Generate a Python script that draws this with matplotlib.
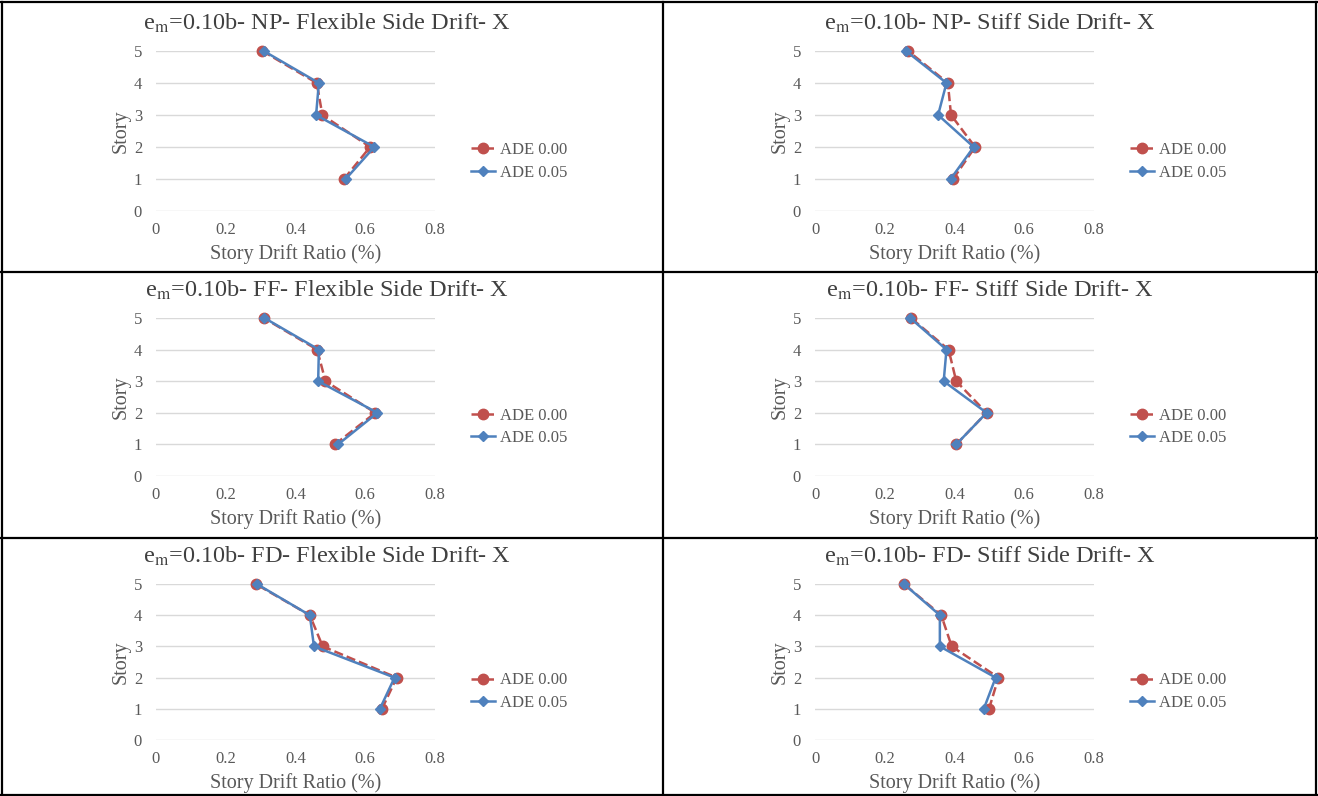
import matplotlib
matplotlib.use("Agg")
import matplotlib.pyplot as plt
from matplotlib.lines import Line2D

plt.rcParams['font.family'] = ['Liberation Serif', 'DejaVu Serif']
plt.rcParams['mathtext.fontset'] = 'stix'

stories = [1, 2, 3, 4, 5]

# drift ratios (%) listed story 1..5
np_flex_000 = [0.539, 0.614, 0.477, 0.461, 0.305]
np_flex_005 = [0.544, 0.626, 0.459, 0.467, 0.309]
np_stiff_000 = [0.396, 0.459, 0.390, 0.381, 0.267]
np_stiff_005 = [0.389, 0.455, 0.353, 0.377, 0.261]
ff_flex_000 = [0.513, 0.629, 0.486, 0.462, 0.309]
ff_flex_005 = [0.522, 0.635, 0.465, 0.467, 0.311]
ff_stiff_000 = [0.405, 0.492, 0.405, 0.383, 0.275]
ff_stiff_005 = [0.405, 0.492, 0.369, 0.377, 0.273]
fd_flex_000 = [0.648, 0.690, 0.478, 0.441, 0.286]
fd_flex_005 = [0.642, 0.684, 0.453, 0.441, 0.289]
fd_stiff_000 = [0.499, 0.526, 0.392, 0.362, 0.255]
fd_stiff_005 = [0.484, 0.518, 0.358, 0.358, 0.255]

titles = [
    ["NP- Flexible Side Drift- X", "NP- Stiff Side Drift- X"],
    ["FF- Flexible Side Drift- X", "FF- Stiff Side Drift- X"],
    ["FD- Flexible Side Drift- X", "FD- Stiff Side Drift- X"],
]
series = [
    [(np_flex_000, np_flex_005), (np_stiff_000, np_stiff_005)],
    [(ff_flex_000, ff_flex_005), (ff_stiff_000, ff_stiff_005)],
    [(fd_flex_000, fd_flex_005), (fd_stiff_000, fd_stiff_005)],
]
labels = ["ADE 0.00", "ADE 0.05"]
xticks = [0, 0.2, 0.4, 0.6, 0.8]

W, H = 1318, 796
fig = plt.figure(figsize=(W / 100, H / 100), dpi=100)

red = '#C0504D'
blue = '#4F81BD'
grey = '#595959'

col_x = [156, 815]          # pixel x of 0 tick
ax_w = 279                  # pixel width 0..0.8
row_y = [(51, 211), (318, 476), (584, 740)]  # pixel y of story 5 and 0
title_y = [23, 290, 556]
title_x = [327, 990]

for r in range(3):
    for c in range(2):
        y5, y0 = row_y[r]
        ax = fig.add_axes([col_x[c] / W, 1 - y0 / H, ax_w / W, (y0 - y5) / H])
        a, b = series[r][c]
        ax.plot(a, stories, color=red, ls='--', lw=1.8, marker='o', ms=7.5,
                label=labels[0], clip_on=False, zorder=3)
        ax.plot(b, stories, color=blue, ls='-', lw=1.8, marker='D', ms=5.5,
                label=labels[1], clip_on=False, zorder=4)
        ax.set_xlim(0, 0.8)
        ax.set_ylim(0, 5)
        ax.set_xticks(xticks)
        ax.set_xticklabels(['{:g}'.format(v) for v in xticks])
        ax.set_yticks(range(6))
        ax.grid(axis='y', color='#D9D9D9', lw=1)
        ax.set_axisbelow(True)
        for s in ax.spines.values():
            s.set_visible(False)
        ax.tick_params(length=0, labelsize=12, labelcolor=grey, pad=10)
        ax.tick_params(axis='x', pad=8)
        ax.set_xlabel('Story Drift Ratio (%)', fontsize=14.5, color=grey, labelpad=4)
        ax.set_ylabel('Story', fontsize=14.5, color=grey, labelpad=2)
        ax.legend(loc='center left', bbox_to_anchor=(1.075, 0.31), frameon=False,
                  fontsize=12, handlelength=1.45, labelspacing=0.38,
                  labelcolor=grey, handletextpad=0.3)
        fig.text(title_x[c] / W, 1 - title_y[r] / H,
                 r'e$_{\mathrm{m}}$=0.10b- ' + titles[r][c],
                 ha='center', va='center', fontsize=17.5, color='#404040')

# table borders
top, bot = 2, 795
for yy in [top, 272, 538, bot]:
    fig.add_artist(Line2D([1 / W, 1317 / W], [1 - yy / H] * 2, color='black', lw=1.6))
for xx in [2, 663, 1316]:
    fig.add_artist(Line2D([xx / W] * 2, [1 - bot / H, 1 - top / H], color='black', lw=1.6))

fig.savefig('out.png', dpi=100)
